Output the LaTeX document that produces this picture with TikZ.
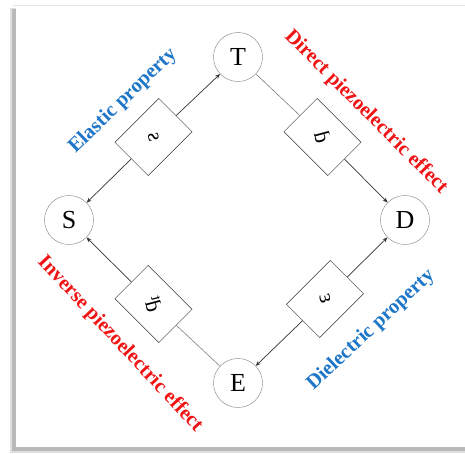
\documentclass[tikz,border=0pt]{standalone}
\usepackage{fontspec}
\setmainfont{Liberation Serif}
\usetikzlibrary{arrows.meta}
\definecolor{propblue}{RGB}{30,118,200}
\definecolor{effred}{RGB}{240,20,20}
\begin{document}
\begin{tikzpicture}[x=1pt, y=-1pt,
  state/.style={circle, draw=gray, minimum size=49pt, inner sep=0pt, font=\fontsize{26}{26}\selectfont},
  coef/.style={rectangle, draw=black!80, fill=white, minimum width=62pt, minimum height=47pt, inner sep=0pt, font=\fontsize{22}{22}\selectfont},
  arr/.style={-{Stealth[length=5pt, width=4pt]}, black!80, line width=0.7pt},
  plain/.style={gray, line width=0.6pt},
  lbl/.style={font=\fontsize{20.5}{20.5}\selectfont\bfseries}]
\useasboundingbox (0,0) rectangle (465,453);
% frame with shadow
\fill[gray!25] (10,8) rectangle (465,453);
\fill[gray!55] (12,9) rectangle (465,451);
\fill[white] (16,5) rectangle (465,447);
\draw[gray!20] (13,5.5) -- (465,5.5);

\node[state] (T) at (238,57) {T};
\node[state] (S) at (69,220) {S};
\node[state] (D) at (405,220) {D};
\node[state] (E) at (238,383) {E};

\node[coef, rotate=45] (bs) at (153.5,137) {\rotatebox{-120}{\reflectbox{s}}};
\node[coef, rotate=-45] (bd) at (322.5,137) {\rotatebox{-30}{\reflectbox{d}}};
\node[coef, rotate=-45] (bdt) at (153.5,304) {\rotatebox{-30}{\reflectbox{d\textsuperscript{t}}}};
\node[coef, rotate=45] (beps) at (325,299) {\rotatebox{-120}{\reflectbox{ε}}};

\draw[arr] (bs) -- (T);
\draw[arr] (bs) -- (S);
\draw[plain] (T) -- (bd);
\draw[arr] (bd) -- (D);
\draw[plain] (E) -- (bdt);
\draw[arr] (bdt) -- (S);
\draw[arr] (beps) -- (E);
\draw[arr] (beps) -- (D);

% property and effect labels
\node[lbl, propblue, rotate=44] (elastic) at (123,101) {Elastic property};
\node[lbl, effred, rotate=-45] (direct) at (366,112) {Direct piezoelectric effect};
\node[lbl, effred, rotate=-47] (inverse) at (120,344) {Inverse piezoelectric effect};
\node[lbl, propblue, rotate=43] (dielectric) at (371,330) {Dielectric property};

\end{tikzpicture}
\end{document}
